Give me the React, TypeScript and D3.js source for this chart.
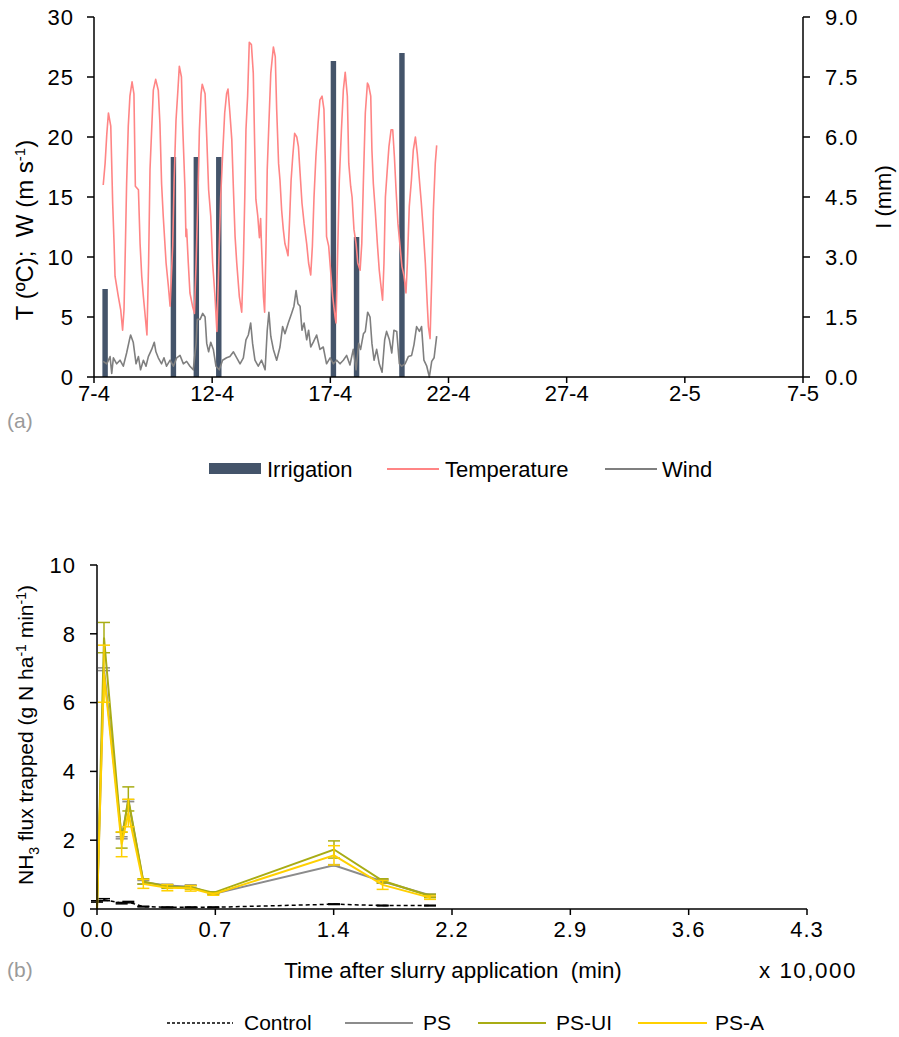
import React from 'react';
import * as d3 from 'd3';

// ---------- Panel (a) data ----------
const startDate = Date.UTC(2019, 3, 7);
const dateTickDays = [0, 5, 10, 15, 20, 25, 30];

const irrigationDays = [0.47, 3.36, 4.33, 5.28, 10.13, 11.11, 13.03];
const irrigationMm = [2.2, 5.5, 5.5, 5.5, 7.9, 3.5, 8.1];

const tempDays = [0.39, 0.47, 0.54, 0.61, 0.71, 0.79, 0.85, 0.89, 1.03, 1.13, 1.21, 1.27, 1.33, 1.38, 1.45, 1.52, 1.61, 1.69, 1.75, 1.88, 1.95, 2.02, 2.09, 2.17, 2.24, 2.31, 2.37, 2.44, 2.51, 2.61, 2.72, 2.79, 2.86, 2.93, 3.05, 3.15, 3.22, 3.33, 3.39, 3.47, 3.55, 3.61, 3.70, 3.75, 3.85, 3.89, 3.92, 3.99, 4.06, 4.17, 4.25, 4.32, 4.39, 4.46, 4.53, 4.58, 4.70, 4.77, 4.85, 4.94, 5.02, 5.12, 5.20, 5.28, 5.36, 5.44, 5.53, 5.61, 5.67, 5.75, 5.83, 5.90, 5.97, 6.04, 6.15, 6.25, 6.32, 6.38, 6.43, 6.50, 6.57, 6.66, 6.74, 6.80, 6.85, 6.93, 7.00, 7.05, 7.09, 7.17, 7.22, 7.28, 7.33, 7.40, 7.48, 7.59, 7.67, 7.73, 7.81, 7.87, 7.94, 8.01, 8.08, 8.15, 8.21, 8.27, 8.34, 8.41, 8.49, 8.58, 8.65, 8.72, 8.80, 8.89, 9.00, 9.08, 9.17, 9.24, 9.31, 9.39, 9.48, 9.56, 9.65, 9.73, 9.79, 9.84, 9.93, 10.01, 10.10, 10.20, 10.24, 10.30, 10.38, 10.47, 10.55, 10.63, 10.72, 10.78, 10.86, 10.92, 11.00, 11.09, 11.16, 11.26, 11.33, 11.40, 11.48, 11.57, 11.62, 11.71, 11.76, 11.82, 11.90, 11.99, 12.07, 12.13, 12.21, 12.27, 12.33, 12.41, 12.48, 12.57, 12.64, 12.71, 12.78, 12.86, 12.95, 13.03, 13.12, 13.20, 13.26, 13.34, 13.43, 13.51, 13.60, 13.68, 13.77, 13.85, 13.93, 14.02, 14.10, 14.15, 14.22, 14.29, 14.36, 14.44, 14.50];
const tempValues = [16.0, 17.8, 20.2, 22.0, 20.9, 14.5, 11.1, 8.4, 6.7, 5.6, 3.9, 5.6, 11.1, 16.1, 20.9, 23.4, 24.6, 23.6, 15.9, 15.6, 11.1, 8.4, 6.7, 5.0, 3.5, 9.5, 17.3, 20.6, 23.9, 24.8, 23.9, 21.1, 16.1, 13.4, 9.5, 7.5, 5.9, 10.9, 16.4, 21.4, 23.9, 25.9, 25.0, 21.1, 15.6, 11.7, 12.3, 9.5, 7.0, 5.9, 5.3, 9.5, 14.5, 20.6, 23.6, 24.4, 23.6, 20.0, 15.6, 13.4, 9.5, 6.7, 3.8, 9.5, 15.0, 18.4, 22.0, 23.6, 24.0, 22.0, 19.8, 15.6, 11.7, 9.5, 6.7, 5.4, 9.5, 15.0, 20.6, 23.4, 27.9, 27.7, 25.3, 19.2, 14.8, 13.4, 11.6, 13.2, 10.9, 6.7, 5.4, 11.1, 17.3, 21.1, 25.3, 27.5, 26.7, 22.3, 17.8, 16.4, 13.9, 12.3, 11.1, 10.6, 10.1, 12.8, 16.4, 18.4, 20.3, 20.0, 19.2, 17.0, 14.5, 12.8, 11.1, 9.5, 8.5, 10.9, 15.0, 18.4, 21.1, 23.1, 23.4, 22.3, 17.8, 11.7, 10.9, 8.9, 6.7, 5.0, 4.5, 9.5, 16.4, 20.6, 23.9, 25.4, 23.4, 17.8, 15.9, 15.0, 12.3, 11.1, 9.5, 8.9, 11.1, 16.4, 22.0, 24.5, 24.3, 23.4, 18.9, 16.1, 13.9, 11.1, 8.9, 7.8, 6.4, 9.5, 15.0, 17.3, 19.2, 20.6, 20.6, 18.4, 15.6, 12.8, 10.9, 9.2, 8.4, 7.0, 9.5, 14.2, 16.4, 18.9, 20.0, 18.6, 16.4, 14.5, 12.3, 9.5, 6.1, 4.2, 3.2, 8.1, 13.9, 17.8, 19.3];

const windDays = [0.39, 0.54, 0.68, 0.75, 0.82, 0.96, 1.10, 1.24, 1.38, 1.50, 1.55, 1.66, 1.78, 1.88, 1.97, 2.09, 2.20, 2.30, 2.44, 2.55, 2.62, 2.72, 2.86, 2.96, 3.07, 3.22, 3.36, 3.50, 3.64, 3.78, 3.92, 4.06, 4.20, 4.32, 4.37, 4.49, 4.60, 4.70, 4.77, 4.85, 4.94, 5.05, 5.16, 5.30, 5.44, 5.61, 5.75, 5.90, 6.04, 6.18, 6.32, 6.43, 6.53, 6.63, 6.71, 6.81, 6.95, 7.09, 7.24, 7.33, 7.40, 7.48, 7.59, 7.73, 7.87, 7.98, 8.08, 8.22, 8.36, 8.46, 8.55, 8.63, 8.72, 8.80, 8.89, 9.00, 9.08, 9.17, 9.28, 9.42, 9.56, 9.70, 9.84, 9.99, 10.13, 10.27, 10.41, 10.55, 10.69, 10.83, 10.97, 11.09, 11.20, 11.28, 11.40, 11.48, 11.58, 11.68, 11.76, 11.85, 11.96, 12.07, 12.19, 12.30, 12.38, 12.50, 12.60, 12.69, 12.81, 12.92, 13.02, 13.16, 13.30, 13.44, 13.54, 13.65, 13.77, 13.86, 13.96, 14.08, 14.19, 14.29, 14.39, 14.50];
const windValues = [1.3, 1.1, 1.7, 0.3, 1.6, 1.1, 1.4, 0.9, 2.0, 3.1, 3.5, 2.9, 1.1, 1.7, 0.6, 1.4, 0.9, 1.7, 2.3, 2.9, 2.1, 1.6, 1.1, 1.6, 0.9, 1.4, 0.9, 1.6, 1.8, 1.1, 1.3, 0.9, 0.6, 2.8, 4.8, 4.8, 5.3, 5.0, 2.8, 2.1, 2.9, 2.3, 0.9, 0.6, 1.4, 1.6, 1.7, 2.1, 1.6, 1.1, 1.6, 3.1, 3.5, 4.5, 2.8, 1.4, 0.9, 1.4, 0.6, 3.9, 5.4, 3.4, 2.3, 1.4, 2.5, 4.2, 3.6, 4.5, 5.3, 5.9, 7.2, 6.1, 5.9, 3.9, 4.5, 3.1, 3.9, 2.5, 2.9, 3.5, 2.3, 2.5, 1.1, 1.6, 1.1, 1.4, 1.1, 1.4, 1.8, 1.0, 2.3, 0.6, 2.8, 2.3, 3.6, 3.8, 5.4, 5.0, 2.8, 1.4, 2.3, 1.1, 0.4, 3.1, 3.8, 3.1, 2.0, 3.9, 3.8, 1.1, 0.9, 1.1, 1.7, 1.8, 2.7, 4.2, 3.8, 4.2, 1.4, 0.9, 0.0, 1.3, 1.6, 3.4];

const leftTicksA = [0, 5, 10, 15, 20, 25, 30];
const rightTicksA = [0, 1.5, 3, 4.5, 6, 7.5, 9];

// ---------- Panel (b) data ----------
const timeMin = [0, 426, 1500, 1906, 2820, 4280, 5700, 7075, 14420, 17380, 20260];
const controlMean = [0.22, 0.27, 0.17, 0.2, 0.07, 0.05, 0.05, 0.05, 0.14, 0.1, 0.1];
const controlErr = [0.02, 0.03, 0.02, 0.02, 0.01, 0.01, 0.01, 0.01, 0.01, 0.01, 0.01];
const psMean = [0, 6.97, 2.07, 3.15, 0.78, 0.68, 0.65, 0.44, 1.27, 0.8, 0.4];
const psErr = [0, 0.04, 0.03, 0.03, 0.05, 0.04, 0.05, 0.02, 0.02, 0.05, 0.03];
const psUiMean = [0, 7.89, 2.0, 3.2, 0.8, 0.65, 0.63, 0.47, 1.73, 0.82, 0.38];
const psUiErr = [0, 0.44, 0.23, 0.35, 0.08, 0.05, 0.05, 0.03, 0.25, 0.06, 0.05];
const psAMean = [0, 6.84, 1.88, 2.79, 0.73, 0.62, 0.6, 0.43, 1.56, 0.7, 0.33];
const psAErr = [0, 0.83, 0.36, 0.4, 0.13, 0.09, 0.08, 0.03, 0.28, 0.13, 0.05];

const xTicksB = [0, 7200, 14400, 21600, 28800, 36000, 43200];
const yTicksB = [0, 2, 4, 6, 8, 10];

const FONT = '"Liberation Sans", Arial, sans-serif';

const C_IRR = '#44546A';
const C_TEMP = '#FF8585';
const C_WIND = '#7F7F7F';
const C_PS = '#8C8C8C';
const C_UI = '#A8AC14';
const C_A = '#FFD000';

export default function App() {
  const DAY = 86400000;
  const toDate = (d: number) => new Date(startDate + d * DAY);

  const xA = d3.scaleUtc().domain([toDate(0), toDate(30)]).range([94, 803]);
  const yL = d3.scaleLinear().domain([0, 30]).range([377, 17]);
  const yR = d3.scaleLinear().domain([0, 9]).range([377, 17]);
  const fmtDate = d3.utcFormat('%-d-%-m');
  const barW = xA(toDate(0.23)) - xA(toDate(0));

  const lineA = d3.line<[number, number]>()
    .x((p) => xA(toDate(p[0])))
    .y((p) => yL(p[1]));
  const tempPath = lineA(tempDays.map((d, i) => [d, tempValues[i]]));
  const windPath = lineA(windDays.map((d, i) => [d, windValues[i]]));

  const xB = d3.scaleLinear().domain([0, 43200]).range([97, 807]);
  const yB = d3.scaleLinear().domain([0, 10]).range([909, 565]);
  const lineB = d3.line<number>()
    .x((_, i) => xB(timeMin[i]))
    .y((v) => yB(v));

  const seriesB = [
    { name: 'Control', mean: controlMean, err: controlErr, color: '#000000', dash: '4,3', w: 1.5 },
    { name: 'PS', mean: psMean, err: psErr, color: C_PS, dash: undefined, w: 2 },
    { name: 'PS-UI', mean: psUiMean, err: psUiErr, color: C_UI, dash: undefined, w: 2 },
    { name: 'PS-A', mean: psAMean, err: psAErr, color: C_A, dash: undefined, w: 2 },
  ];

  const tickFont = 22;
  const ls = 1;

  return (
    <svg width={899} height={1037} style={{ position: 'absolute', left: 0, top: 0, background: '#fff' }} fontFamily={FONT}>
      <rect x={0} y={0} width={899} height={1037} fill="#fff" />
      {/* ===== Panel (a) ===== */}
      {irrigationDays.map((d, i) => (
        <rect key={'b' + i} x={xA(toDate(d)) - barW / 2} y={yR(irrigationMm[i])} width={barW}
          height={yR(0) - yR(irrigationMm[i])} fill={C_IRR} />
      ))}
      <path d={tempPath || ''} fill="none" stroke={C_TEMP} strokeWidth={1.6} strokeLinejoin="round" />
      <path d={windPath || ''} fill="none" stroke={C_WIND} strokeWidth={1.6} strokeLinejoin="round" />

      <line x1={94} x2={94} y1={17} y2={377} stroke="#000" strokeWidth={1.5} />
      <line x1={803} x2={803} y1={17} y2={377} stroke="#000" strokeWidth={1.5} />
      <line x1={94} x2={803} y1={377} y2={377} stroke="#000" strokeWidth={1.5} />
      {leftTicksA.map((t) => (
        <g key={'lt' + t}>
          <line x1={87} x2={94} y1={yL(t)} y2={yL(t)} stroke="#000" strokeWidth={1.5} />
          <text x={73 + ls} y={yL(t)} dy="0.35em" textAnchor="end" fontSize={tickFont} letterSpacing={ls}>{t}</text>
        </g>
      ))}
      {rightTicksA.map((t) => (
        <g key={'rt' + t}>
          <line x1={803} x2={810} y1={yR(t)} y2={yR(t)} stroke="#000" strokeWidth={1.5} />
          <text x={825} y={yR(t)} dy="0.35em" textAnchor="start" fontSize={tickFont} letterSpacing={ls}>{t.toFixed(1)}</text>
        </g>
      ))}
      {dateTickDays.map((d) => (
        <g key={'xt' + d}>
          <line x1={xA(toDate(d))} x2={xA(toDate(d))} y1={377} y2={383} stroke="#000" strokeWidth={1.5} />
          <text x={xA(toDate(d))} y={393} dy="0.35em" textAnchor="middle" fontSize={tickFont}>{fmtDate(toDate(d))}</text>
        </g>
      ))}
      <text transform="translate(25,230) rotate(-90)" textAnchor="middle" dy="0.35em" fontSize={24}>
        {'T (ºC);\u00A0\u00A0W (m s'}<tspan dy="-8" fontSize={15}>-1</tspan><tspan dy="8">)</tspan>
      </text>
      <text transform="translate(883,197) rotate(-90)" textAnchor="middle" dy="0.35em" fontSize={22}>I (mm)</text>
      <text x={7} y={421} dy="0.35em" fontSize={21} fill="#9a9a9a">(a)</text>

      {/* legend (a) */}
      <rect x={209} y={463} width={52} height={11} fill={C_IRR} />
      <text x={267} y={469} dy="0.35em" fontSize={22}>Irrigation</text>
      <line x1={387} x2={439} y1={469} y2={469} stroke={C_TEMP} strokeWidth={2} />
      <text x={445} y={469} dy="0.35em" fontSize={22}>Temperature</text>
      <line x1={605} x2={657} y1={469} y2={469} stroke={C_WIND} strokeWidth={2} />
      <text x={662} y={469} dy="0.35em" fontSize={22}>Wind</text>

      {/* ===== Panel (b) ===== */}
      {seriesB.map((s) => (
        <g key={s.name}>
          <path d={lineB(s.mean) || ''} fill="none" stroke={s.color} strokeWidth={s.w} strokeDasharray={s.dash} />
          {s.mean.map((m, i) => s.err[i] > 0 ? (
            <g key={i} stroke={s.color} strokeWidth={1.5}>
              <line x1={xB(timeMin[i])} x2={xB(timeMin[i])} y1={yB(m + s.err[i])} y2={yB(m - s.err[i])} />
              <line x1={xB(timeMin[i]) - 6} x2={xB(timeMin[i]) + 6} y1={yB(m + s.err[i])} y2={yB(m + s.err[i])} />
              <line x1={xB(timeMin[i]) - 6} x2={xB(timeMin[i]) + 6} y1={yB(m - s.err[i])} y2={yB(m - s.err[i])} />
            </g>
          ) : null)}
        </g>
      ))}
      <line x1={97} x2={97} y1={565} y2={909} stroke="#000" strokeWidth={1.5} />
      <line x1={97} x2={807} y1={909} y2={909} stroke="#000" strokeWidth={1.5} />
      {yTicksB.map((t) => (
        <g key={'yb' + t}>
          <line x1={90} x2={97} y1={yB(t)} y2={yB(t)} stroke="#000" strokeWidth={1.5} />
          <text x={75 + ls} y={yB(t)} dy="0.35em" textAnchor="end" fontSize={tickFont} letterSpacing={ls}>{t}</text>
        </g>
      ))}
      {xTicksB.map((t) => (
        <g key={'xb' + t}>
          <line x1={xB(t)} x2={xB(t)} y1={909} y2={915} stroke="#000" strokeWidth={1.5} />
          <text x={xB(t)} y={929} dy="0.35em" textAnchor="middle" fontSize={tickFont} letterSpacing={ls}>{(t / 10000).toFixed(1)}</text>
        </g>
      ))}
      <text x={453} y={970} dy="0.35em" textAnchor="middle" fontSize={22.4}>{'Time after slurry application\u00A0\u00A0(min)'}</text>
      <text x={759} y={970} dy="0.35em" fontSize={22.4} letterSpacing={1.5}>x 10,000</text>
      <text x={7} y={970} dy="0.35em" fontSize={21} fill="#9a9a9a">(b)</text>
      <text transform="translate(26,735) rotate(-90)" textAnchor="middle" dy="0.35em" fontSize={21}>
        NH<tspan dy="6" fontSize={14}>3</tspan><tspan dy="-6"> flux trapped (g N ha</tspan><tspan dy="-7" fontSize={14}>-1</tspan><tspan dy="7"> min</tspan><tspan dy="-7" fontSize={14}>-1</tspan><tspan dy="7">)</tspan>
      </text>

      {/* legend (b) */}
      <g fontSize={21}>
        <line x1={167} x2={233} y1={1023} y2={1023} stroke="#000" strokeWidth={1.5} strokeDasharray="3,2" />
        <text x={244} y={1023} dy="0.35em">Control</text>
        <line x1={345} x2={413} y1={1023} y2={1023} stroke={C_PS} strokeWidth={2} />
        <text x={423} y={1023} dy="0.35em">PS</text>
        <line x1={478} x2={546} y1={1023} y2={1023} stroke={C_UI} strokeWidth={2} />
        <text x={556} y={1023} dy="0.35em">PS-UI</text>
        <line x1={638} x2={707} y1={1023} y2={1023} stroke={C_A} strokeWidth={2} />
        <text x={715} y={1023} dy="0.35em">PS-A</text>
      </g>
    </svg>
  );
}
